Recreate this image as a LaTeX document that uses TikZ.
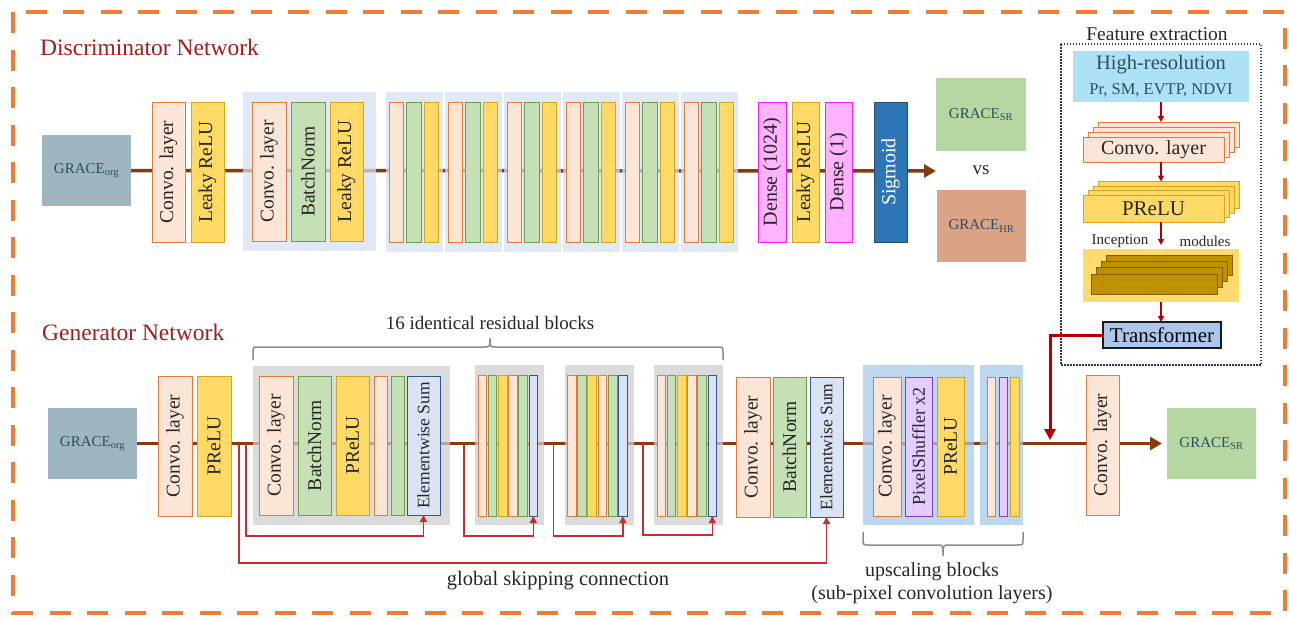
\documentclass[tikz,border=0pt]{standalone}
\usepackage{fontspec}
\setmainfont{Liberation Serif}
\usetikzlibrary{arrows.meta,calc}
\definecolor{convofill}{HTML}{FBE5D6}
\definecolor{convoline}{HTML}{E07B39}
\definecolor{yelfill}{HTML}{FFD966}
\definecolor{yelline}{HTML}{D6A520}
\definecolor{grnfill}{HTML}{C5E0B4}
\definecolor{grnline}{HTML}{6E9E4C}
\definecolor{esumfill}{HTML}{DAE3F3}
\definecolor{esumline}{HTML}{2F5597}
\definecolor{densefill}{HTML}{FFB3FF}
\definecolor{denseline}{HTML}{F020F0}
\definecolor{pixfill}{HTML}{E5CCFF}
\definecolor{pixline}{HTML}{7F3FBF}
\definecolor{sigfill}{HTML}{2E75B6}
\definecolor{sigline}{HTML}{1F4E79}
\definecolor{dpanfill}{HTML}{D6E0F2}
\definecolor{gpanfill}{HTML}{CDCDCD}
\definecolor{upanfill}{HTML}{A4C7E8}
\definecolor{orgfill}{HTML}{9FB5BF}
\definecolor{srfill}{HTML}{B6D6A2}
\definecolor{hrfill}{HTML}{DBA385}
\definecolor{gracetxt}{HTML}{2B4F5E}
\definecolor{hrbox}{HTML}{ADE2F6}
\definecolor{incpanel}{HTML}{FFDA6E}
\definecolor{incfill}{HTML}{BF9000}
\definecolor{incline}{HTML}{806000}
\definecolor{trfill}{HTML}{ABC6EA}
\definecolor{trline}{HTML}{1A1A1A}
\definecolor{fedot}{HTML}{1F3864}
\definecolor{mline}{HTML}{843C0C}
\definecolor{skipc}{HTML}{C03030}
\definecolor{trred}{HTML}{B00000}
\definecolor{titlered}{HTML}{A31C1C}
\definecolor{bordero}{HTML}{ED7D31}
\definecolor{bracec}{HTML}{8C8C8C}
\definecolor{txtdark}{HTML}{262626}
\pgfdeclarelayer{bg}
\pgfsetlayers{bg,main}
\newcommand\myrbox[7]{\node[#6,rotate=90,minimum width={(#5)-(#3)},minimum height={(#4)-(#2)}] (#1) at ({((#2)+(#4))/2},{((#3)+(#5))/2}) {#7};}
\newcommand\mybox[7]{\node[#6,minimum width={(#4)-(#2)},minimum height={(#5)-(#3)}] (#1) at ({((#2)+(#4))/2},{((#3)+(#5))/2}) {#7};}
\begin{document}
\begin{tikzpicture}[x=1pt,y=-1pt,
  lay/.style={draw, line width=1pt, inner sep=0pt, outer sep=0pt, font=\fontsize{19.5}{22}\selectfont, text=txtdark},
  convo/.style={lay, fill=convofill, draw=convoline},
  yel/.style={lay, fill=yelfill, draw=yelline},
  grn/.style={lay, fill=grnfill, draw=grnline},
  esum/.style={lay, fill=esumfill, draw=esumline, font=\fontsize{17.5}{20}\selectfont},
  dense/.style={lay, fill=densefill, draw=denseline, font=\fontsize{20}{22}\selectfont},
  pix/.style={lay, fill=pixfill, draw=pixline, font=\fontsize{18}{20}\selectfont},
  sigm/.style={lay, fill=sigfill, draw=sigline, text=white, font=\fontsize{20}{22}\selectfont},
  panel/.style={inner sep=0pt, outer sep=0pt, fill opacity=0.72},
  grace/.style={inner sep=0pt, outer sep=0pt, text=gracetxt, font=\fontsize{15}{18}\selectfont},
  title/.style={anchor=west, inner sep=0pt, text=titlered, font=\fontsize{23.5}{26}\selectfont},
  lbl/.style={inner sep=0pt, text=txtdark, font=\fontsize{20}{24}\selectfont},
  mainln/.style={draw=mline, line width=3.5pt},
  bigtip/.style={-{Triangle[length=12pt,width=13pt]}},
  skip/.style={draw=skipc, line width=1.3pt, -{Triangle[length=7pt,width=7pt]}},
  fearr/.style={draw=trred, line width=1.3pt, -{Triangle[length=6pt,width=6pt]}},
  brace/.style={draw=bracec, line width=1.5pt},
  fe/.style={inner sep=0pt, outer sep=0pt}
]
\useasboundingbox (0,0) rectangle (1289,619);
% outer dashed border
\draw[bordero, line width=3.5pt, dash pattern=on 21pt off 16.5pt] (13,12) rectangle (1285,613);

% ================= Discriminator =================
\node[title] (dtitle) at (40,47) {Discriminator Network};
\mybox{dorg}{42}{135}{131}{206}{grace, fill=orgfill}{GRACE\textsubscript{org}}
\myrbox{dc1}{152}{102}{185}{242}{convo}{Convo. layer}
\myrbox{dl1}{191}{102}{224}{242}{yel}{Leaky ReLU}
\mybox{dpan1}{243}{92}{376}{251}{panel, fill=dpanfill}{}
\myrbox{dc2}{252}{102}{286}{241}{convo}{Convo. layer}
\myrbox{db2}{291}{102}{325}{241}{grn}{BatchNorm}
\myrbox{dl2}{330}{102}{363}{241}{yel}{Leaky ReLU}
\foreach \k in {0,...,5}{
  \pgfmathsetmacro\px{386+59*\k}
  \mybox{dq\k}{\px}{92}{\px+57}{252}{panel, fill=dpanfill}{}
  \myrbox{dqo\k}{\px+3}{102}{\px+17.5}{242}{convo}{}
  \myrbox{dqg\k}{\px+20.5}{102}{\px+35}{242}{grn}{}
  \myrbox{dqy\k}{\px+38}{102}{\px+52.5}{242}{yel}{}
}
\myrbox{dd1}{758}{102}{786}{242}{dense}{Dense (1024)}
\myrbox{dl3}{792}{102}{819}{242}{yel}{Leaky ReLU}
\myrbox{dd2}{825}{102}{852}{242}{dense}{Dense (1)}
\myrbox{sig}{874}{102}{907}{242}{sigm}{Sigmoid}
\coordinate (darr) at (936,171);
\mybox{dsr}{936}{78}{1026}{151}{grace, fill=srfill}{GRACE\textsubscript{SR}}
\node[lbl, font=\fontsize{19}{22}\selectfont] (vs) at (981,170) {vs};
\mybox{dhr}{937}{190}{1026}{262}{grace, fill=hrfill}{GRACE\textsubscript{HR}}
\begin{pgfonlayer}{bg}
\draw[mainln, bigtip] (dorg.east) -- (darr);
\end{pgfonlayer}

% ================= Feature extraction =================
\node[lbl, font=\fontsize{19.5}{22}\selectfont] (fetitle) at (1157,34) {Feature extraction};
\draw[fedot, line width=1.2pt, dash pattern=on 1.5pt off 1.5pt] (1061,44) rectangle (1261,365);
\mybox{hr}{1073}{51}{1249}{102}{fe, fill=hrbox}{}
\node[grace, font=\fontsize{20.5}{24}\selectfont] (hrt1) at (1161,65) {High-resolution};
\node[grace, font=\fontsize{16.5}{20}\selectfont] (hrt2) at (1161,90) {Pr, SM, EVTP, NDVI};
\foreach \i in {3,2,1}{
  \mybox{fc\i}{1083+5*\i}{137-5*\i}{1224+5*\i}{162-5*\i}{convo}{}
}
\mybox{fc0}{1083}{137}{1224}{162}{convo, font=\fontsize{20}{22}\selectfont}{Convo. layer}
\foreach \i in {3,2,1}{
  \mybox{fp\i}{1083+5*\i}{195-4.5*\i}{1224+5*\i}{222-4.5*\i}{yel}{}
}
\mybox{fp0}{1083}{195}{1224}{222}{yel, font=\fontsize{21}{24}\selectfont}{PReLU}
\node[lbl, font=\fontsize{15}{18}\selectfont] (inc1) at (1120,241) {Inception};
\node[lbl, font=\fontsize{15}{18}\selectfont] (inc2) at (1205,241) {modules};
\mybox{incp}{1083}{249}{1239}{302}{fe, fill=incpanel}{}
\foreach \i in {3,2,1,0}{
  \mybox{fi\i}{1091+5*\i}{274-6.3*\i}{1217+5*\i}{294-6.3*\i}{lay, fill=incfill, draw=incline}{}
}
\mybox{tr}{1103}{322}{1221}{348}{lay, fill=trfill, draw=trline, line width=1.8pt, text=black, font=\fontsize{21}{24}\selectfont}{Transformer}
\draw[fearr] (hr.south) -- (hr.south |- fc3.north);
\draw[fearr] (fc0.south -| hr.south) -- (hr.south |- fp3.north);
\draw[fearr, shorten >=4pt] (fp0.south -| hr.south) -- (hr.south |- incp.north);
\draw[fearr] (incp.south -| hr.south) -- (hr.south |- tr.north);

% ================= Generator =================
\node[title] (gtitle) at (42,332) {Generator Network};
\mybox{gorg}{48}{408}{137}{479}{grace, fill=orgfill}{GRACE\textsubscript{org}}
\myrbox{gc1}{158}{376}{192}{516}{convo}{Convo. layer}
\myrbox{gp1}{197}{376}{231}{516}{yel}{PReLU}
\mybox{gpan1}{253}{366}{450}{525}{panel, fill=gpanfill}{}
\myrbox{gc2}{259}{376}{293}{515}{convo}{Convo. layer}
\myrbox{gb2}{298}{376}{331}{515}{grn}{BatchNorm}
\myrbox{gp2}{336}{376}{369}{515}{yel}{PReLU}
\myrbox{go2}{374}{376}{387}{515}{convo}{}
\myrbox{gg2}{391}{376}{404}{515}{grn}{}
\myrbox{ge1}{407}{376}{440}{515}{esum}{Elementwise Sum}
\foreach \k in {2,3,4}{
  \pgfmathsetmacro\px{475+89.5*(\k-2)}
  \mybox{gpan\k}{\px}{365}{\px+69}{525}{panel, fill=gpanfill}{}
  \myrbox{gbar\k0}{\px+3}{375}{\px+11.7}{516}{convo}{}
  \myrbox{gbar\k1}{\px+13.2}{375}{\px+21.9}{516}{grn}{}
  \myrbox{gbar\k2}{\px+23.4}{375}{\px+32.1}{516}{yel}{}
  \myrbox{gbar\k3}{\px+33.6}{375}{\px+42.3}{516}{convo}{}
  \myrbox{gbar\k4}{\px+43.8}{375}{\px+52.5}{516}{grn}{}
  \myrbox{gbar\k5}{\px+54}{375}{\px+62.7}{516}{esum}{}
}
\myrbox{gc3}{736}{377}{770}{517}{convo}{Convo. layer}
\myrbox{gb3}{773}{377}{806}{517}{grn}{BatchNorm}
\myrbox{ge2}{810}{377}{843}{517}{esum}{Elementwise Sum}
\mybox{upan1}{863}{365}{974}{525}{panel, fill=upanfill}{}
\myrbox{uc}{873}{377}{901}{516}{convo}{Convo. layer}
\myrbox{ups}{905}{377}{932}{516}{pix}{PixelShuffler x2}
\myrbox{upr}{937}{377}{964}{516}{yel}{PReLU}
\mybox{upan2}{980}{365}{1023}{525}{panel, fill=upanfill}{}
\myrbox{ub1}{987}{377}{995}{516}{convo}{}
\myrbox{ub2}{999}{377}{1007}{516}{pix}{}
\myrbox{ub3}{1010}{377}{1019}{516}{yel}{}
\myrbox{gc4}{1086}{375}{1119}{515}{convo}{Convo. layer}
\mybox{gsr}{1167}{408}{1256}{479}{grace, fill=srfill}{GRACE\textsubscript{SR}}
\begin{pgfonlayer}{bg}
\draw[mainln, bigtip, shorten >=5pt] (gorg.east) -- (gsr.west);
\end{pgfonlayer}

% skip connections
\coordinate (skg) at (239,443);
\coordinate (sk1) at (246,443);
\coordinate (sk2) at (464,443);
\coordinate (sk3) at (553.5,443);
\coordinate (sk4) at (643,443);
\draw[skip] (skg) -- ++(0,120) -| (ge2.west);
\draw[skip] (sk1) -- ++(0,93) -| (ge1.west);
\draw[skip] (sk2) -- ++(0,93) -| (gbar25.west);
\draw[skip] (sk3) -- ++(0,93) -| (gbar35.west);
\draw[skip] (sk4) -- ++(0,92) -| (gbar45.west);

% transformer to generator line
\coordinate (tjoin) at (1050,440);
\draw[draw=trred, line width=3pt, -{Triangle[length=11pt,width=11pt]}] (tr.west) -| (tjoin);

% braces and labels
\draw[brace] (253,360) -- (253,353) .. controls (253,347) .. (259,347) -- (484,347) .. controls (490,347) .. (490,338) .. controls (490,347) .. (496,347) -- (717,347) .. controls (723,347) .. (723,353) -- (723,360);
\node[lbl, font=\fontsize{19}{22}\selectfont] (resl) at (490,323) {16 identical residual blocks};
\node[lbl, font=\fontsize{20.5}{24}\selectfont] (gskl) at (558,581) {global skipping connection};
\draw[brace] (863,532) -- (863,539) .. controls (863,545) .. (869,545) -- (937,545) .. controls (943,545) .. (943,556) .. controls (943,545) .. (949,545) -- (1017,545) .. controls (1023,545) .. (1023,539) -- (1023,532);
\node[lbl] (upl1) at (932,572) {upscaling blocks};
\node[lbl] (upl2) at (932,595) {(sub-pixel convolution layers)};
\end{tikzpicture}
\end{document}
